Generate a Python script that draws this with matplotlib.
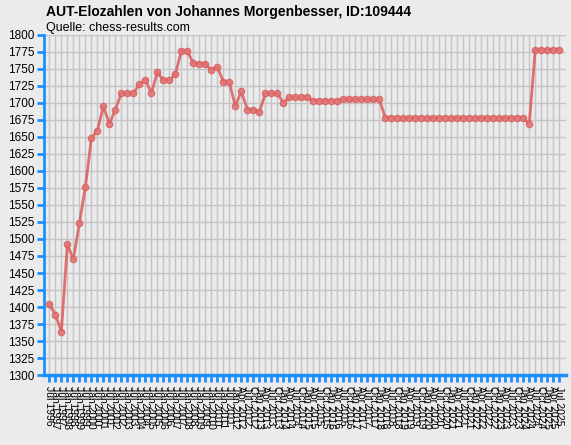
import matplotlib
matplotlib.use('Agg')
import matplotlib.pyplot as plt

# rating list dates: semiannual until Jan 2012, then quarterly
dates = []
for y in range(1996, 2012):
    if y > 1996:
        dates.append('Jan ' + str(y))
    dates.append('Jul ' + str(y))
dates.append('Jan 2012')
for y in range(2012, 2026):
    for m in ['Jan', 'Apr', 'Jul', 'Oct']:
        if y == 2012 and m == 'Jan':
            continue
        if y == 2025 and m == 'Oct':
            continue
        dates.append(m + ' ' + str(y))

elo = [1404, 1389, 1364, 1492, 1470, 1523, 1576, 1648, 1659, 1695,
       1669, 1690, 1714, 1714, 1714, 1727, 1734, 1714, 1745, 1733,
       1733, 1742, 1776, 1776, 1758, 1757, 1757, 1748, 1753, 1731,
       1730, 1695, 1717, 1690, 1690, 1686, 1714, 1714, 1714, 1700,
       1708, 1708, 1708, 1708, 1703, 1703, 1703, 1703, 1703, 1705,
       1705, 1705, 1705, 1705, 1705, 1705, 1678, 1678, 1678, 1678,
       1678, 1678, 1678, 1678, 1678, 1678, 1678, 1678, 1678, 1678,
       1678, 1678, 1678, 1678, 1678, 1678, 1678, 1678, 1678, 1678,
       1669, 1778, 1778, 1778, 1778, 1778]

yticks = list(range(1300, 1801, 25))

plt.rcParams['font.family'] = ['Liberation Sans', 'DejaVu Sans']
bg = '#ebebeb'
blue = '#1e8fff'

fig = plt.figure(figsize=(5.71, 4.45), dpi=100, facecolor=bg)
ax = fig.add_axes([0.077, 0.157, 0.914, 0.765])
ax.set_facecolor(bg)

x = list(range(len(elo)))
ax.plot(x, elo, color='#dc5a5a', alpha=0.85, lw=2, marker='o', ms=4.5,
        markerfacecolor='#e27474', markeredgecolor='#d96060', zorder=3)

ax.set_xlim(-0.9, len(elo) + 0.1)
ax.set_ylim(1300, 1800)
ax.set_yticks(yticks)
ax.set_yticklabels([str(v) for v in yticks], fontsize=8.5)
ax.set_xticks(x)
ax.set_xticklabels(dates, rotation=-90, fontsize=7.5)

ax.grid(True, color='#c4c4c4', lw=1)
ax.set_axisbelow(True)
for s in ['top', 'right']:
    ax.spines[s].set_visible(False)
ax.spines['left'].set_color(blue)
ax.spines['left'].set_linewidth(2)
ax.spines['bottom'].set_color(blue)
ax.spines['bottom'].set_linewidth(2.5)
ax.tick_params(axis='y', color=blue, width=2, length=5, pad=2)
ax.tick_params(axis='x', color=blue, width=2, length=5, pad=3)

fig.text(0.081, 0.972, 'AUT-Elozahlen von Johannes Morgenbesser, ID:109444',
         fontsize=10, fontweight='bold', va='center')
fig.text(0.081, 0.938, 'Quelle: chess-results.com', fontsize=9, va='center')

fig.savefig('out.png', dpi=100, facecolor=bg)
